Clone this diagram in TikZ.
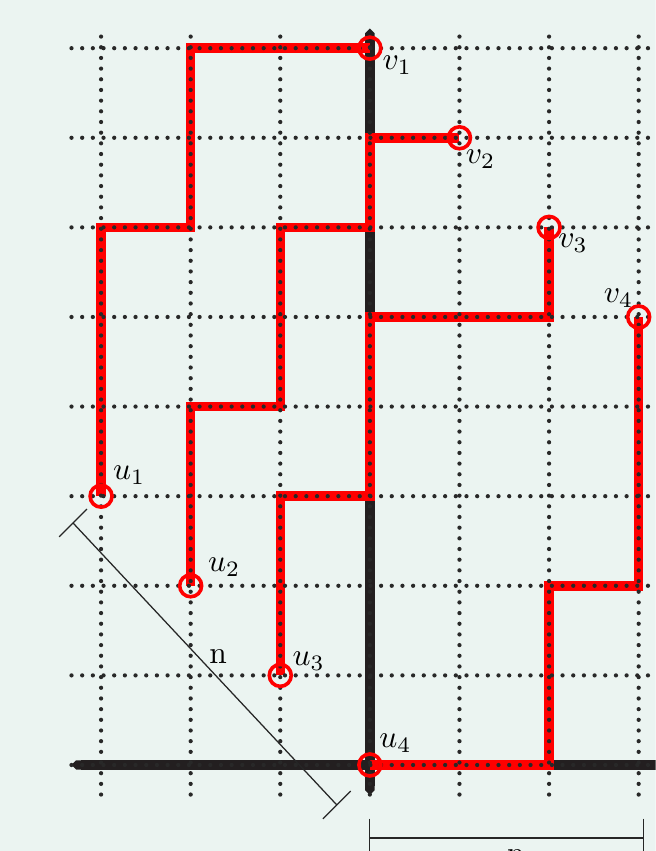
\documentclass[tikz,border=0pt]{standalone}
\usetikzlibrary{arrows.meta}
\definecolor{bgc}{RGB}{235,244,241}
\definecolor{axisc}{RGB}{35,31,32}
\definecolor{gridc}{RGB}{40,40,40}
\begin{document}
\begin{tikzpicture}[x=1cm,y=1cm,
  gridline/.style={gridc, line width=1.35pt, line cap=round, dash pattern=on 0pt off 3.39pt},
  axisline/.style={axisc, line width=3pt, {Triangle Cap[]}-{Triangle Cap[]}},
  redpath/.style={red, line width=3pt},
  endpt/.style={circle, draw=red, line width=1.15pt, minimum size=0.245cm, inner sep=0pt},
  lab/.style={inner sep=0pt},
  dimline/.style={black!85, line width=0.4pt}]
\useasboundingbox (-1.128,-0.96) rectangle (6.19,8.538);
\clip (-1.128,-0.96) rectangle (6.19,8.538);
\fill[bgc] (-1.128,-0.96) rectangle (6.19,8.538);

% end points
\coordinate (u1) at (0,3);
\coordinate (u2) at (1,2);
\coordinate (u3) at (2,1);
\coordinate (u4) at (3,0);
\coordinate (v1) at (3,8);
\coordinate (v2) at (4,7);
\coordinate (v3) at (5,6);
\coordinate (v4) at (6,5);

% axes
\coordinate (xl) at (-0.33,0);
\coordinate (xr) at (6.6,0);
\coordinate (yb) at (3,-0.335);
\coordinate (yt) at (3,8.22);
\draw[axisline] (xl) -- (xr);
\draw[axisline] (yb) -- (yt);

% red paths
\draw[redpath] (u1) -- ++(0,3) -- ++(1,0) -- ++(0,2) -- (v1);
\draw[redpath] (u2) -- ++(0,2) -- ++(1,0) -- ++(0,2) -- ++(1,0) -- ++(0,1) -- (v2);
\draw[redpath] (u3) -- ++(0,2) -- ++(1,0) -- ++(0,2) -- ++(2,0) -- (v3);
\draw[redpath] (u4) -- ++(2,0) -- ++(0,2) -- ++(1,0) -- (v4);

% dotted grid
\foreach \x in {0,...,6} \draw[gridline] (\x,-0.33) -- (\x,8.22);
\foreach \y in {0,...,8} \draw[gridline] (-0.33,\y) -- (6.5,\y);

% circles
\node[endpt] (cu1) at (u1) {};
\node[endpt] (cu2) at (u2) {};
\node[endpt] (cu3) at (u3) {};
\node[endpt] (cu4) at (u4) {};
\node[endpt] (cv1) at (v1) {};
\node[endpt] (cv2) at (v2) {};
\node[endpt] (cv3) at (v3) {};
\node[endpt] (cv4) at (v4) {};

% labels
\node[lab] (lu1) at (0.313,3.237) {$u_1$};
\node[lab] (lu2) at (1.374,2.21) {$u_2$};
\node[lab] (lu3) at (2.318,1.161) {$u_3$};
\node[lab] (lu4) at (3.285,0.245) {$u_4$};
\node[lab] (lv1) at (3.307,7.81) {$v_1$};
\node[lab] (lv2) at (4.235,6.758) {$v_2$};
\node[lab] (lv3) at (5.268,5.826) {$v_3$};
\node[lab] (lv4) at (5.776,5.206) {$v_4$};

% diagonal dimension
\coordinate (da) at (-0.313,2.701);
\coordinate (db) at (2.631,-0.446);
\draw[dimline] (da) -- (db);
\draw[dimline] (da) ++(-0.155,-0.155) -- ++(0.31,0.31);
\draw[dimline] (db) ++(-0.155,-0.155) -- ++(0.31,0.31);
\node[lab] (ln) at (1.307,1.211) {n};

% horizontal dimension
\coordinate (dc) at (3,-0.815);
\coordinate (dd) at (6.056,-0.815);
\draw[dimline] (dc) -- (dd);
\draw[dimline] (3,-0.6) -- (3,-1.2);
\draw[dimline] (6.056,-0.6) -- (6.056,-1.2);
\node[lab] (ln2) at (4.63,-1.02) {n};
\end{tikzpicture}
\end{document}
